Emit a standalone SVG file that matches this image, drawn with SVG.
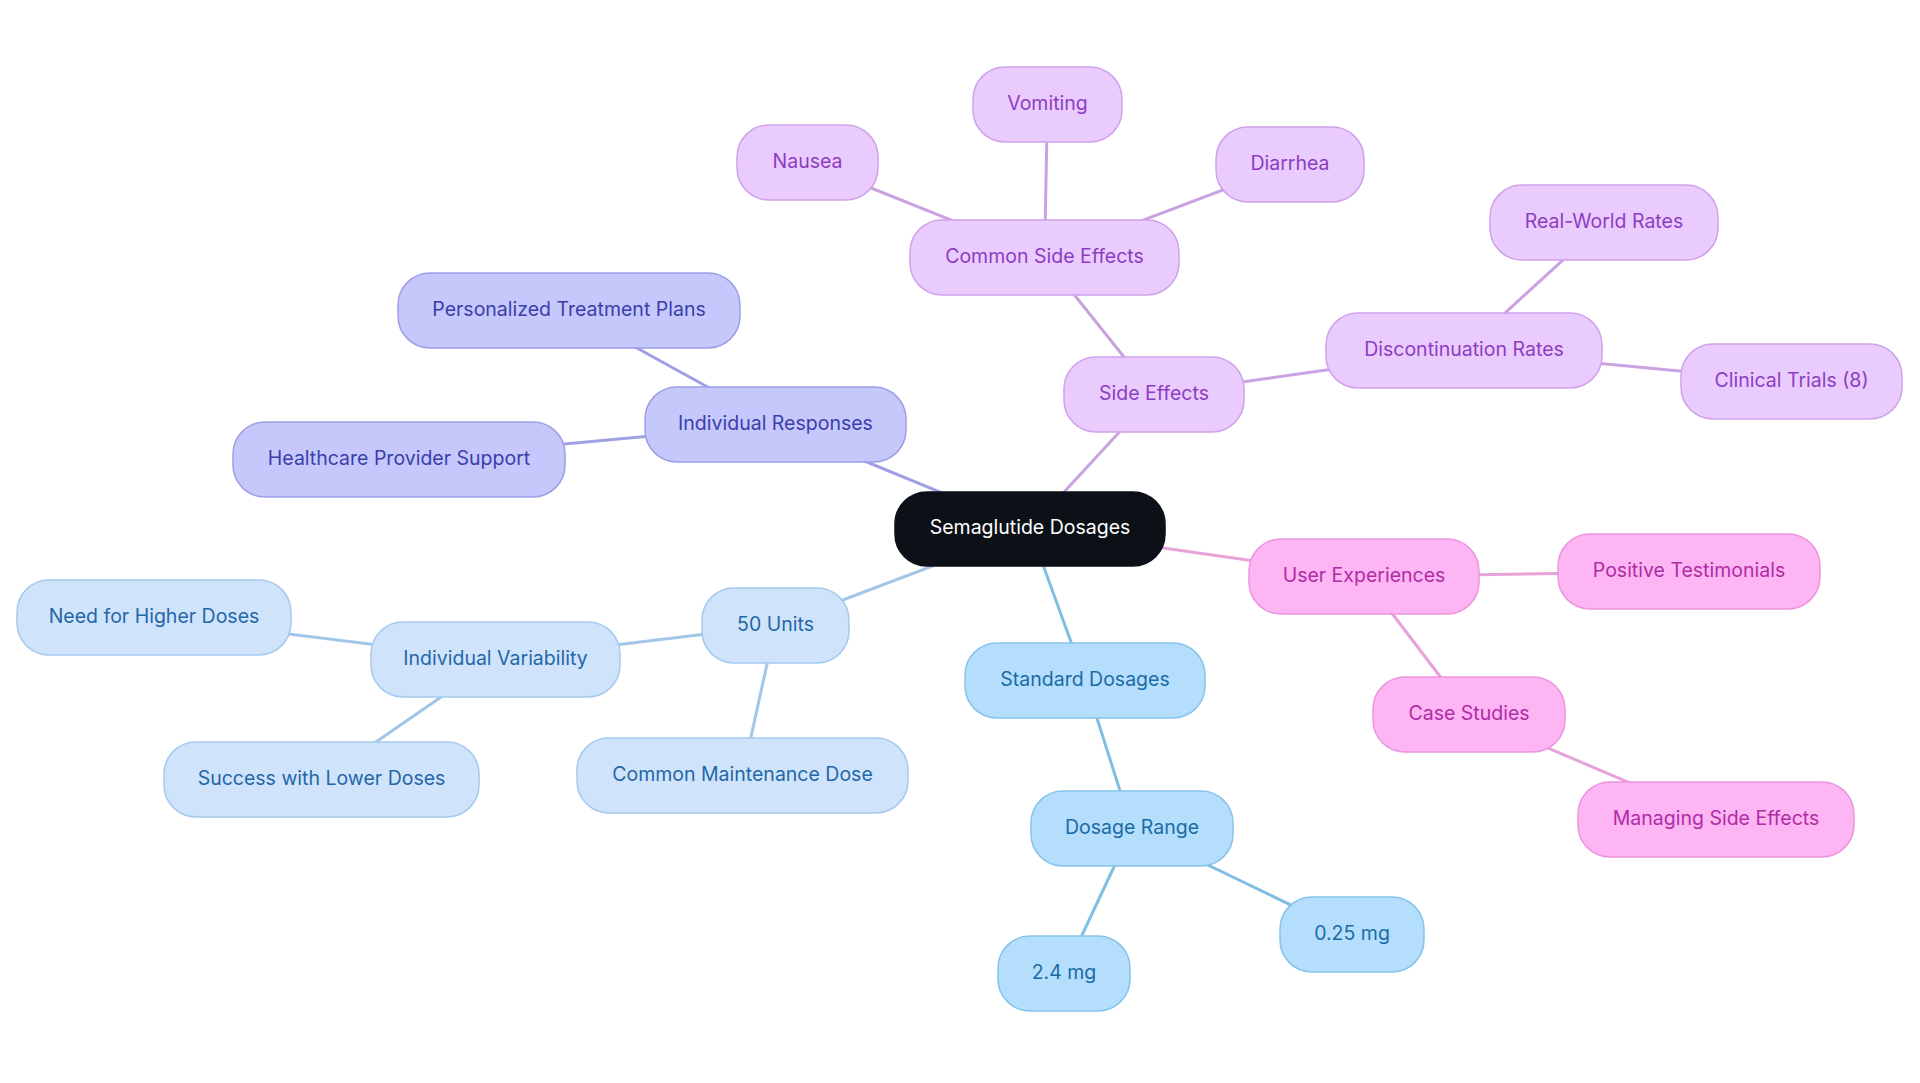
<svg xmlns="http://www.w3.org/2000/svg" width="1920" height="1083" viewBox="0 0 1920 1083">
<style>
text{font-family:Inter,"Noto Sans","Liberation Sans",sans-serif;font-size:19.5px;text-anchor:middle;dominant-baseline:central}
.n rect{stroke-width:1.5}
.root rect{fill:#0c1017;stroke:#0c1017}
.root text{fill:#ffffff}
.ind rect{fill:#c6c8fc;stroke:#9d9fe6}
.ind text{fill:#3a3eaa}
.se rect{fill:#eacbfd;stroke:#cfa2ec}
.se text{fill:#8c3dc2}
.ue rect{fill:#fdb5f3;stroke:#ec95e0}
.ue text{fill:#b02ba6}
.sd rect{fill:#b4defc;stroke:#86c3ec}
.sd text{fill:#1b6ca6}
.fu rect{fill:#cfe4fb;stroke:#a6c9ee}
.fu text{fill:#2467a8}
.c line{stroke-width:3;fill:none}
.ci{stroke:#a09fe4}
.cs{stroke:#c9a2e2}
.cu{stroke:#e7a2da}
.cd{stroke:#80bfe3}
.cf{stroke:#a3c6e8}
</style>
<rect width="1920" height="1083" fill="#ffffff"/>
<g id="connectors" class="c">
<line class="ci" x1="1030" y1="529" x2="775.5" y2="424.5"/>
<line class="ci" x1="775.5" y1="424.5" x2="569" y2="310.5"/>
<line class="ci" x1="775.5" y1="424.5" x2="399" y2="459.5"/>
<line class="cs" x1="1030" y1="529" x2="1154" y2="394.5"/>
<line class="cs" x1="1154" y1="394.5" x2="1044.5" y2="257.5"/>
<line class="cs" x1="1044.5" y1="257.5" x2="807.5" y2="162.5"/>
<line class="cs" x1="1044.5" y1="257.5" x2="1047.5" y2="104.5"/>
<line class="cs" x1="1044.5" y1="257.5" x2="1290" y2="164.5"/>
<line class="cs" x1="1154" y1="394.5" x2="1464" y2="350.5"/>
<line class="cs" x1="1464" y1="350.5" x2="1604" y2="222.5"/>
<line class="cs" x1="1464" y1="350.5" x2="1791.5" y2="381.5"/>
<line class="cu" x1="1030" y1="529" x2="1364" y2="576.5"/>
<line class="cu" x1="1364" y1="576.5" x2="1689" y2="571.5"/>
<line class="cu" x1="1364" y1="576.5" x2="1469" y2="714.5"/>
<line class="cu" x1="1469" y1="714.5" x2="1716" y2="819.5"/>
<line class="cd" x1="1030" y1="529" x2="1085" y2="680.5"/>
<line class="cd" x1="1085" y1="680.5" x2="1132" y2="828.5"/>
<line class="cd" x1="1132" y1="828.5" x2="1352" y2="934.5"/>
<line class="cd" x1="1132" y1="828.5" x2="1064" y2="973.5"/>
<line class="cf" x1="1030" y1="529" x2="775.5" y2="625.5"/>
<line class="cf" x1="775.5" y1="625.5" x2="495.5" y2="659.5"/>
<line class="cf" x1="495.5" y1="659.5" x2="154" y2="617.5"/>
<line class="cf" x1="495.5" y1="659.5" x2="321.5" y2="779.5"/>
<line class="cf" x1="775.5" y1="625.5" x2="742.5" y2="775.5"/>
</g>
<g id="n-root" class="n root"><rect x="895" y="492" width="270" height="74" rx="32"/><text x="1030" y="527">Semaglutide Dosages</text></g>
<g id="n-individual-responses" class="n ind"><rect x="645" y="387" width="261" height="75" rx="32"/><text x="775.5" y="422.5">Individual Responses</text></g>
<g id="n-personalized" class="n ind"><rect x="398" y="273" width="342" height="75" rx="32"/><text x="569" y="308.5">Personalized Treatment Plans</text></g>
<g id="n-healthcare" class="n ind"><rect x="233" y="422" width="332" height="75" rx="32"/><text x="399" y="457.5">Healthcare Provider Support</text></g>
<g id="n-side-effects" class="n se"><rect x="1064" y="357" width="180" height="75" rx="32"/><text x="1154" y="392.5">Side Effects</text></g>
<g id="n-common-side-effects" class="n se"><rect x="910" y="220" width="269" height="75" rx="32"/><text x="1044.5" y="255.5">Common Side Effects</text></g>
<g id="n-nausea" class="n se"><rect x="737" y="125" width="141" height="75" rx="32"/><text x="807.5" y="160.5">Nausea</text></g>
<g id="n-vomiting" class="n se"><rect x="973" y="67" width="149" height="75" rx="32"/><text x="1047.5" y="102.5">Vomiting</text></g>
<g id="n-diarrhea" class="n se"><rect x="1216" y="127" width="148" height="75" rx="32"/><text x="1290" y="162.5">Diarrhea</text></g>
<g id="n-discontinuation" class="n se"><rect x="1326" y="313" width="276" height="75" rx="32"/><text x="1464" y="348.5">Discontinuation Rates</text></g>
<g id="n-real-world" class="n se"><rect x="1490" y="185" width="228" height="75" rx="32"/><text x="1604" y="220.5">Real-World Rates</text></g>
<g id="n-clinical-trials" class="n se"><rect x="1681" y="344" width="221" height="75" rx="32"/><text x="1791.5" y="379.5">Clinical Trials (8)</text></g>
<g id="n-user-experiences" class="n ue"><rect x="1249" y="539" width="230" height="75" rx="32"/><text x="1364" y="574.5">User Experiences</text></g>
<g id="n-positive" class="n ue"><rect x="1558" y="534" width="262" height="75" rx="32"/><text x="1689" y="569.5">Positive Testimonials</text></g>
<g id="n-case-studies" class="n ue"><rect x="1373" y="677" width="192" height="75" rx="32"/><text x="1469" y="712.5">Case Studies</text></g>
<g id="n-managing" class="n ue"><rect x="1578" y="782" width="276" height="75" rx="32"/><text x="1716" y="817.5">Managing Side Effects</text></g>
<g id="n-standard" class="n sd"><rect x="965" y="643" width="240" height="75" rx="32"/><text x="1085" y="678.5">Standard Dosages</text></g>
<g id="n-dosage-range" class="n sd"><rect x="1031" y="791" width="202" height="75" rx="32"/><text x="1132" y="826.5">Dosage Range</text></g>
<g id="n-025" class="n sd"><rect x="1280" y="897" width="144" height="75" rx="32"/><text x="1352" y="932.5">0.25 mg</text></g>
<g id="n-24" class="n sd"><rect x="998" y="936" width="132" height="75" rx="32"/><text x="1064" y="971.5">2.4 mg</text></g>
<g id="n-50-units" class="n fu"><rect x="702" y="588" width="147" height="75" rx="32"/><text x="775.5" y="623.5">50 Units</text></g>
<g id="n-individual-variability" class="n fu"><rect x="371" y="622" width="249" height="75" rx="32"/><text x="495.5" y="657.5">Individual Variability</text></g>
<g id="n-higher" class="n fu"><rect x="17" y="580" width="274" height="75" rx="32"/><text x="154" y="615.5">Need for Higher Doses</text></g>
<g id="n-lower" class="n fu"><rect x="164" y="742" width="315" height="75" rx="32"/><text x="321.5" y="777.5">Success with Lower Doses</text></g>
<g id="n-maintenance" class="n fu"><rect x="577" y="738" width="331" height="75" rx="32"/><text x="742.5" y="773.5">Common Maintenance Dose</text></g>
</svg>
